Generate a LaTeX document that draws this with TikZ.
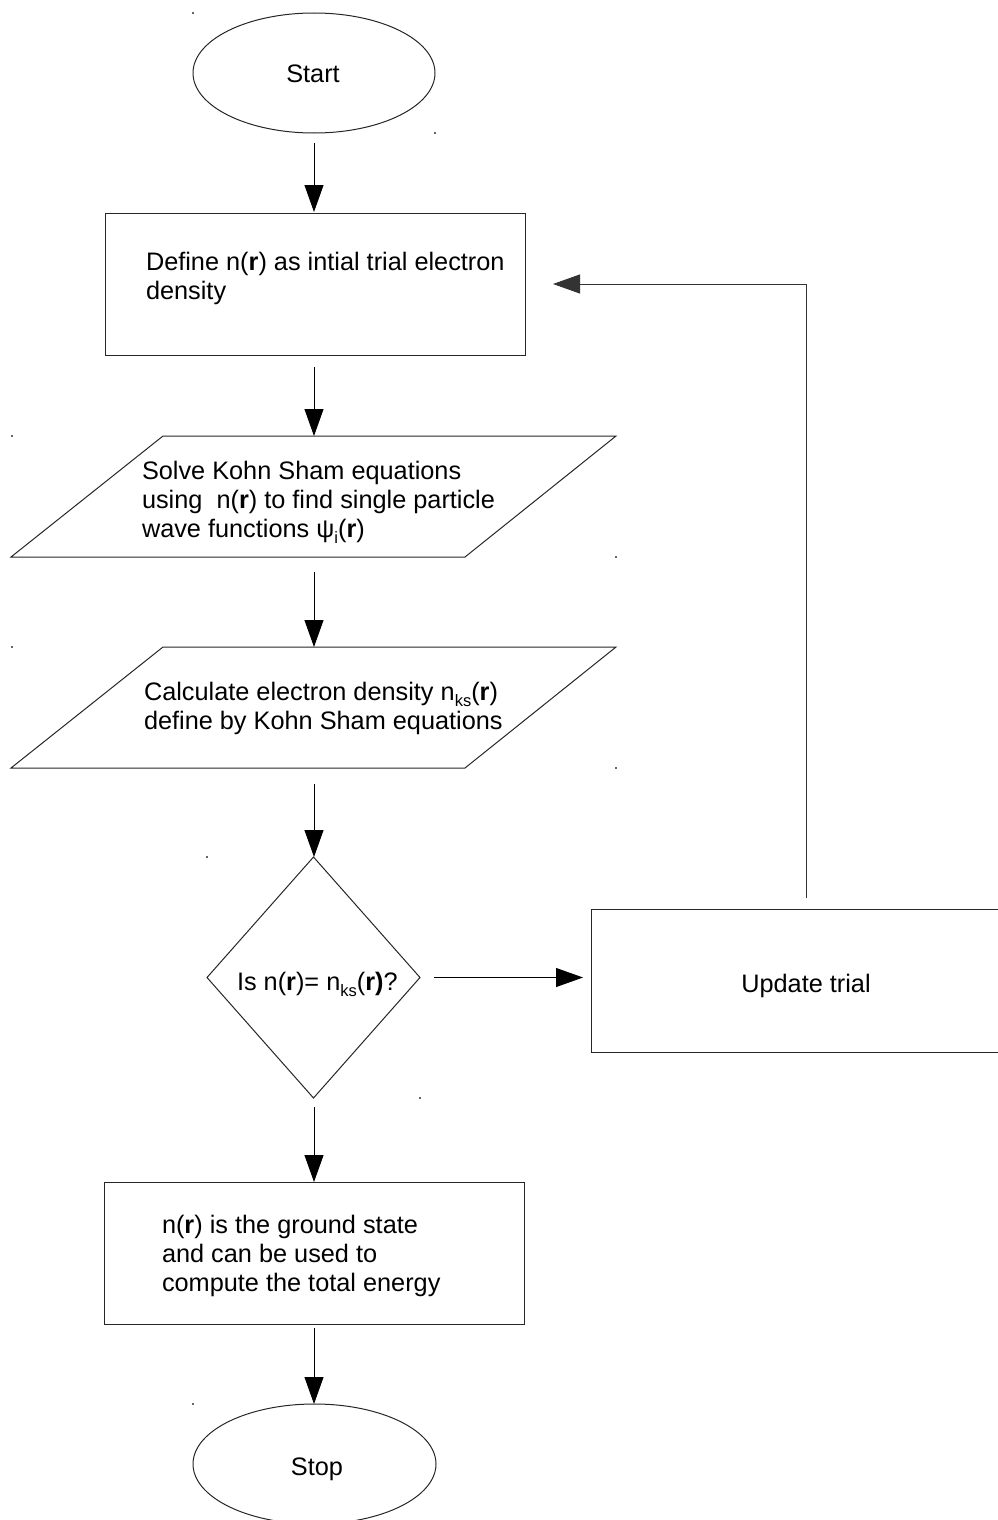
\documentclass[tikz,border=0pt]{standalone}
\usepackage{fontspec}
\setmainfont{Liberation Sans}
\usetikzlibrary{shapes.geometric,arrows.meta}
\newcommand\sbs[1]{\raisebox{-0.27em}{\fontsize{16.5}{16.5}\selectfont #1}}
\newcommand\bfr{\textbf{r}}
\begin{document}
\begin{tikzpicture}[x=1pt,y=-1pt,
  shp/.style={draw=black!85, line width=1pt, inner sep=0pt, outer sep=0pt},
  box/.style={shp, rectangle},
  oval/.style={shp, ellipse},
  dec/.style={shp, diamond},
  ghost/.style={rectangle, inner sep=0pt, outer sep=0pt},
  txt/.style={inner sep=0pt, outer sep=0pt, font=\fontsize{25.3}{29}\selectfont},
  arr/.style={line width=1pt, draw=black, -{Triangle[length=27pt,width=19pt]}},
  handle/.style={fill=black!60}
]
\useasboundingbox (0,0) rectangle (998,1520);
\clip (0,0) rectangle (998,1520);

% shapes
\node[oval, minimum width=242pt, minimum height=120pt] (start) at (314,73) {};
\node[txt, anchor=base] (tstart) at (313,82) {Start};

\node[box, minimum width=420pt, minimum height=142pt] (define) at (315,284) {};
\node[txt, anchor=base west] (tdefine) at (146,270) {\begin{tabular}[t]{@{}l@{}}Define n(\bfr) as intial trial electron\\density\end{tabular}};

\node[ghost, minimum width=453pt, minimum height=121pt] (solve) at (313.5,496.5) {};
\draw[shp] (163,436) -- (616,436) -- (465,557) -- (11,557) -- cycle;
\node[txt, anchor=base west] (tsolve) at (142,479) {\begin{tabular}[t]{@{}l@{}}Solve Kohn Sham equations\\using\ \ n(\bfr) to find single particle\\wave functions ψ\sbs{i}(\bfr)\end{tabular}};

\node[ghost, minimum width=453pt, minimum height=121pt] (calc) at (313.5,707.5) {};
\draw[shp] (163,647) -- (616,647) -- (465,768) -- (11,768) -- cycle;
\node[txt, anchor=base west] (tcalc) at (144,700) {\begin{tabular}[t]{@{}l@{}}Calculate electron density n\sbs{ks}(\bfr)\\define by Kohn Sham equations\end{tabular}};

\node[dec, minimum width=213pt, minimum height=241pt] (check) at (313.5,977.5) {};
\node[txt, anchor=base west] (tcheck) at (237,990) {Is n(\bfr)= n\sbs{ks}(\textbf{r)}?};

\node[box, minimum width=430pt, minimum height=143pt] (update) at (806,980.5) {};
\node[txt, anchor=base] (tupdate) at (806,992) {Update trial};

\node[box, minimum width=420pt, minimum height=142pt] (ground) at (314,1253) {};
\node[txt, anchor=base west] (tground) at (162,1233) {\begin{tabular}[t]{@{}l@{}}n(\bfr) is the ground state\\and can be used to\\compute the total energy\end{tabular}};

\node[oval, minimum width=243pt, minimum height=120pt] (stop) at (314.5,1464) {};
\node[txt, anchor=base] (tstop) at (317,1475) {Stop};

% connectors
\draw[arr, shorten <=10pt, shorten >=1pt] (start.south) -- (start.south |- define.north);
\draw[arr, shorten <=12pt] (define.south -| start) -- (solve.north -| start);
\draw[arr, shorten <=15pt] (solve.south -| start) -- (calc.north -| start);
\draw[arr, shorten <=16pt] (calc.south -| start) -- (check.north -| start);
\draw[arr, shorten <=9pt] (check.south -| start) -- (ground.north -| start);
\draw[arr, shorten <=4pt] (ground.south -| start) -- (stop.north -| start);
\draw[arr, shorten <=14pt, shorten >=8pt] (check.east) -- (check.east -| update.west);
\draw[arr, draw=black!80, shorten <=11pt, shorten >=28pt] (update.north) |- (define.east);

% selection handles
\foreach \p in {(193,13),(435,133),(12,436),(616,557),(12,647),(616,768),(207,857),(420,1098),(193,1404)}
  \fill[handle] \p ++(-0.75,-0.75) rectangle ++(1.5,1.5);
\end{tikzpicture}
\end{document}
